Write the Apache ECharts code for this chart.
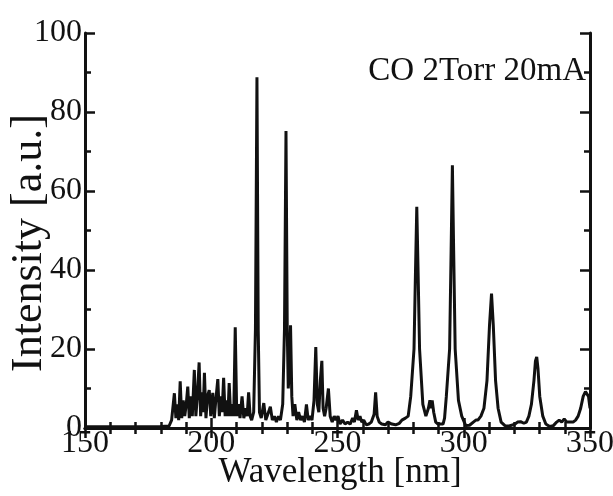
<!DOCTYPE html>
<html><head><meta charset="utf-8">
<script src="https://cdn.jsdelivr.net/npm/echarts@6/dist/echarts.min.js"></script>
<style>html,body{margin:0;padding:0;background:#fff}#c{width:613px;height:496px}</style>
</head><body><div id="c"></div>
<script>
const wavelength = [
  150,160,170,180,183.3,
  184.3,185.4,186,186.6,187.1,187.7,188.3,188.9,189.5,190.1,190.7,191.3,191.9,192.5,193.3,193.9,194.5,195.2,195.8,196.4,196.8,197.3,197.9,198.5,199.2,199.8,200.6,201.2,201.8,202.6,203.2,203.8,204.3,204.9,205.5,206.1,206.6,207.1,207.7,208.3,208.9,209.5,210.1,210.7,211.4,212.2,212.9,213.6,214.2,214.8,215.4,216,216.8,
  217.5,218.1,218.6,219.1,219.8,220.8,221.6,222.4,223.4,224.2,225,225.8,226.6,227.4,228.3,229,229.6,230.1,230.5,230.9,231.4,231.9,232.4,233.1,233.9,234.6,235.4,236.1,236.9,237.7,238.4,239.1,239.9,240.7,241.4,242,242.6,243.2,243.8,244.3,244.9,245.5,246.4,247.1,247.9,248.7,249.4,250.2,
  251,252,253,254,255,256,256.7,257.5,258.2,258.9,259.6,260.4,261.4,262.4,263.4,264.5,265.1,265.7,266.5,267.5,269,270,271.5,273,274.5,275.5,276.9,278,279,280.3,280.9,281.4,281.9,282.5,283.8,285,286,286.6,287.1,287.5,288.1,288.9,289.8,290.8,291.8,292.4,293.1,294.4,295,295.5,296,296.6,297.9,299.2,300.8,302.3,303.8,304.8,305.6,306.8,308,309.2,310.2,311,311.7,312.6,313.6,314.8,316.3,318,320.3,321.3,322.5,323.8,324.8,325.8,326.8,327.8,328.4,328.9,329.4,330.1,331.3,332.5,334,335.5,336.8,337.8,338.8,339.8,340.8,342,343.3,344.3,345.3,346.3,347.3,348.2,348.8,349.4,350];
const intensity = [
  0.3,0.3,0.3,0.4,0.5,
  2,8.8,2.5,6,2,11.8,2.5,7,3,6,10.5,2.5,8,3,14.7,3,8,16.6,3,9,4,14,2.5,8,9.6,3,8.9,2.5,7,12.4,3,8,4,12.7,3,7,3,11.4,3,6,3,25.5,3,6,2.5,8,2.5,5,3,9,3,2,4,
  25,88.8,25,4,2.5,6.3,2,3.5,5.4,2,3,1.5,3,2,6,25,75.2,25,10,14,26,8,3,6,2,4,2,3,1.5,6,2,3,2,7,20.5,6,4,12,17,5,3,5,10,3,1.5,3,2,3,
  1,2,1,1.5,1,2.5,1.5,4.5,2,3,1.5,2,0.8,1,1.5,3.5,9,3,1.5,1,0.8,1.5,1,0.8,1.2,2,2.5,3,8,20,40,56,40,20,6,3,5,7,5,7,4,1.5,1,1,1,2.5,8,20,45,66.5,45,20,7,3,0.6,0.7,1.5,2,2,3,5,12,26,34,26,12,5,1.5,0.6,0.5,1,1.5,1.6,1.2,1.5,3,6,12,17,18,15,8,3,1,0.4,0.6,1.5,2,1.5,2.3,1.5,1.5,1.5,2,3,5,8,9.2,9,8,5];
const xTicks = [150,200,250,300,350];
const yTicks = [0,20,40,60,80,100];
const xTitle = 'Wavelength [nm]';
const yTitle = 'Intensity [a.u.]';
const annotation = 'CO 2Torr 20mA';

const font = 'Liberation Serif, Times New Roman, serif';
const ink = '#111';
const data = wavelength.map((w,i)=>[w,intensity[i]]);
const line = {show:true,lineStyle:{color:ink,width:3}};
const tick = {show:true,inside:true,length:10,lineStyle:{color:ink,width:2.5}};
function minor(n){return {show:true,splitNumber:n,length:6,lineStyle:{color:ink,width:2.5}};}
const chart = echarts.init(document.getElementById('c'),null,{renderer:'canvas'});
chart.setOption({
  animation:false,
  backgroundColor:'#fff',
  grid:{left:85,right:23,top:33,bottom:68,containLabel:false,outerBoundsMode:'none'},
  xAxis:[
    {type:'value',min:150,max:350,interval:50,position:'bottom',
      axisLine:line,axisTick:tick,minorTick:minor(5),splitLine:{show:false},
      axisLabel:{color:ink,fontFamily:font,fontSize:32,margin:0,formatter:v=>xTicks.includes(v)?String(v):''}},
    {type:'value',min:150,max:350,interval:50,position:'top',
      axisLine:line,axisTick:tick,minorTick:minor(5),splitLine:{show:false},
      axisLabel:{show:false}}
  ],
  yAxis:[
    {type:'value',min:0,max:100,interval:20,position:'left',
      axisLine:line,axisTick:tick,minorTick:minor(2),splitLine:{show:false},
      axisLabel:{color:ink,fontFamily:font,fontSize:32,margin:3,formatter:v=>yTicks.includes(v)?String(v):''}},
    {type:'value',min:0,max:100,interval:20,position:'right',
      axisLine:line,axisTick:tick,minorTick:minor(2),splitLine:{show:false},
      axisLabel:{show:false}}
  ],
  graphic:[
    {type:'text',right:27,top:55,style:{text:annotation,fill:ink,font:'33px '+font}},
    {type:'text',x:340,y:473,style:{text:xTitle,fill:ink,font:'35px '+font,align:'center',verticalAlign:'middle'}},
    {type:'text',x:29,y:243,rotation:Math.PI/2,style:{text:yTitle,fill:ink,font:'44px '+font,align:'center',verticalAlign:'middle'}}
  ],
  series:[{type:'line',data:data,showSymbol:false,symbol:'none',smooth:false,
    lineStyle:{color:ink,width:3},xAxisIndex:0,yAxisIndex:0,clip:true}]
});
</script></body></html>
